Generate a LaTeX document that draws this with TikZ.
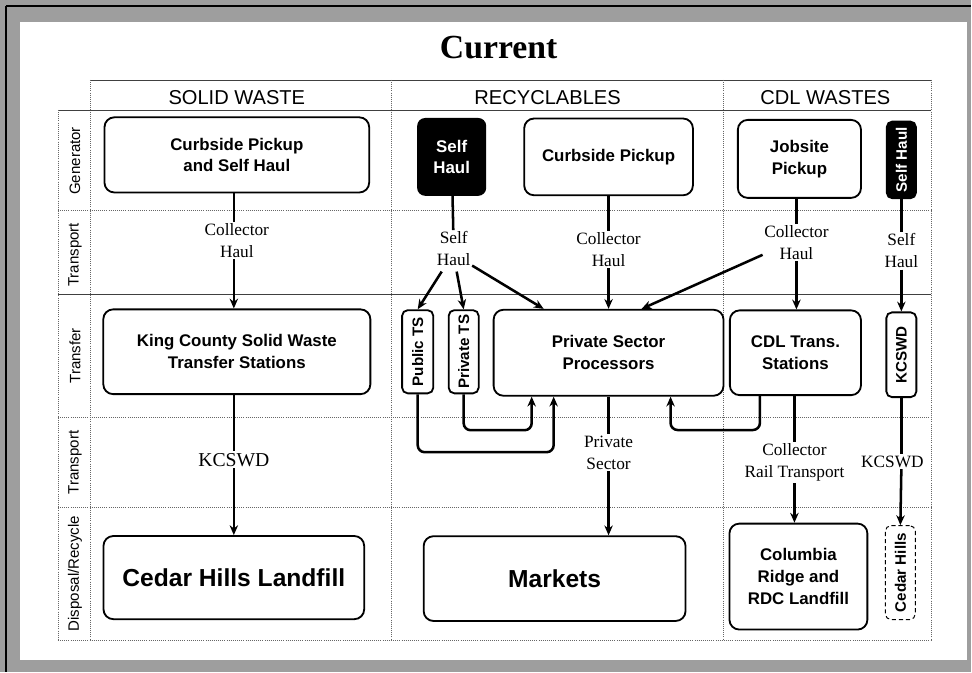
\documentclass[tikz,border=0pt]{standalone}
\usepackage{fontspec}
\setmainfont{Liberation Serif}
\setsansfont{Liberation Sans}
\usepackage{graphicx}
\usetikzlibrary{arrows.meta,calc}
\definecolor{framegray}{gray}{0.62}

\tikzset{
  box/.style={draw, line width=1.3pt, rounded corners=7pt, align=center, inner sep=0pt, fill=white,
    font=\sffamily\bfseries\fontsize{12}{15.5}\selectfont},
  blackbox/.style={box, fill=black, text=white},
  bigbox/.style={box, font=\sffamily\bfseries\fontsize{17.5}{20}\selectfont},
  slimbox/.style={box, rounded corners=4pt, font=\sffamily\bfseries\fontsize{10.8}{12}\selectfont},
  lbl/.style={align=center, inner sep=1pt, font=\fontsize{12.3}{15.5}\selectfont},
  conn/.style={line width=1.8pt},
  arr/.style={conn, -{Stealth[length=7pt,width=6pt]}},
  rule/.style={black!75, line width=0.6pt},
  grid/.style={densely dotted, black!60, line width=0.5pt},
  rowname/.style={rotate=90, font=\sffamily\fontsize{10.7}{12}\selectfont},
  colname/.style={font=\sffamily\fontsize{14.3}{16}\selectfont}
}

\begin{document}
\begin{tikzpicture}[x=0.025cm, y=-0.025cm]
% Draw the frame
\fill[framegray] (0,0) rectangle (972,672);
\fill[white] (20,22) rectangle (968,660);
\draw[line width=1pt] (6,6) -- (972,6);
\draw[line width=1pt] (6,6) -- (6,672);

% Draw the title
\node[font=\bfseries\fontsize{24}{28}\selectfont] (title) at (499,48) {Current};

% Draw the table lines
\draw[rule] (90,80) -- (932,80);
\draw[rule] (58,110) -- (932,110);
\draw[grid] (58,210) -- (932,210);
\draw[rule] (58,295) -- (932,295);
\draw[grid] (58,418) -- (932,418);
\draw[grid] (58,508) -- (932,508);
\draw[grid] (58,641) -- (932,641);
\foreach \x in {90,392,724,932} \draw[grid] (\x,80) -- (\x,641);
\draw[grid] (58,110) -- (58,641);

% Column and row names
\node[colname] (sw) at (237,98) {SOLID WASTE};
\node[colname] (rc) at (548,98) {RECYCLABLES};
\node[colname] (cdl) at (826,98) {CDL WASTES};
\node[rowname] (gen) at (75,161) {Generator};
\node[rowname] (tr1) at (75,255) {Transport};
\node[rowname] (tf) at (75,356) {Transfer};
\node[rowname] (tr2) at (75,463) {Transport};
\node[rowname] (dr) at (75,574) {Disposal/Recycle};

% Generator row
\node[box, minimum width=6.62cm, minimum height=1.88cm] (cps) at (237,155) {Curbside Pickup\\and Self Haul};
\node[blackbox, rounded corners=5pt, minimum width=1.68cm, minimum height=1.9cm] (shr) at (452,157) {Self\\Haul};
\node[box, minimum width=4.22cm, minimum height=1.92cm] (cpr) at (609,157) {Curbside Pickup};
\node[box, minimum width=3.08cm, minimum height=1.95cm] (job) at (800,159) {Jobsite\\Pickup};
\node[slimbox, fill=black, text=white, minimum width=0.73cm, minimum height=1.92cm] (shc) at (902,160) {\rotatebox{90}{Self Haul}};

% Transport labels
\node[lbl] (chs) at (237,241) {Collector\\Haul};
\node[lbl] (shl) at (454,249) {Self\\Haul};
\node[lbl] (chr) at (609,250) {Collector\\Haul};
\node[lbl] (chc) at (797,243) {Collector\\Haul};
\node[lbl] (shlc) at (902,251) {Self\\Haul};

% Transfer row
\node[box, minimum width=6.68cm, minimum height=2.12cm] (kcts) at (237,352) {King County Solid Waste\\Transfer Stations};
\node[slimbox, minimum width=0.78cm, minimum height=2.08cm] (pub) at (418,352) {\rotatebox{90}{Public TS}};
\node[slimbox, minimum width=0.75cm, minimum height=2.08cm] (pri) at (464,352) {\rotatebox{90}{Private TS}};
\node[box, minimum width=5.75cm, minimum height=2.15cm] (psp) at (609,353) {Private Sector\\Processors};
\node[box, minimum width=3.28cm, minimum height=2.12cm] (cdlts) at (796,353) {CDL Trans.\\Stations};
\node[slimbox, minimum width=0.75cm, minimum height=2.12cm] (kcb) at (902,355) {\rotatebox{90}{KCSWD}};

% Transport labels
\node[lbl, font=\fontsize{14}{16}\selectfont] (kcl) at (234,460) {KCSWD};
\node[lbl] (psl) at (609,453) {Private\\Sector};
\node[lbl] (crt) at (795,463) {Collector\\Rail Transport};
\node[lbl] (kcl2) at (893,462) {KCSWD};

% Disposal/Recycle row
\node[bigbox, minimum width=6.52cm, minimum height=2.08cm] (chl) at (234,578) {Cedar Hills Landfill};
\node[bigbox, minimum width=6.55cm, minimum height=2.12cm] (mkt) at (555,579) {Markets};
\node[box, minimum width=3.45cm, minimum height=2.65cm] (crl) at (799,577) {Columbia\\Ridge and\\RDC Landfill};
\node[slimbox, densely dashed, line width=0.7pt, minimum width=0.75cm, minimum height=2.35cm] (chv) at (901,573) {\rotatebox{90}{Cedar Hills}};

% Connectors
\draw[conn] (cps.south -| kcl) -- (kcl |- chs.north);
\draw[arr] (kcl |- chs.south) -- (kcl |- kcts.north);
\draw[conn] (kcts.south -| kcl) -- (kcl.north);
\draw[arr] (kcl.south) -- (kcl |- chl.north);

\draw[conn] (shr) -- (shl);
\draw[arr] ($(shl.south)+(-12,4)$) -- (pub.north);
\draw[arr] ($(shl.south)+(3,4)$) -- (pri.north);
\draw[arr] ($(shl.south east)+(0,-2)$) -- ($(psp.north west)+(51,0)$);

\draw[conn] (cpr) -- (chr);
\draw[arr] (chr) -- (psp.north);
\draw[conn] (psp) -- (psl);
\draw[arr] (psl) -- (psl |- mkt.north);

\draw[conn] (job.south -| chc) -- (chc);
\draw[arr] (chc) -- (chc |- cdlts.north);
\draw[arr] ($(chc.west)+(0,12)$) -- ($(psp.north west)+(149,0)$);
\draw[conn] (cdlts.south -| crt) -- (crt);
\draw[arr] (crt) -- (crt |- crl.north);

\draw[conn] (shc) -- (shlc);
\draw[arr] (shlc) -- (shlc |- kcb.north);
\draw[conn] (kcb) -- (kcb |- kcl2.north);
\draw[arr] (kcb |- kcl2.south) -- (chv.north);

% Loops back to the processors
\draw[arr, rounded corners=5pt] (pub.south) -- ++(0,58) -| ($(psp.south west)+(61,0)$);
\draw[arr, rounded corners=5pt] (pri.south) -- ++(0,36) -| ($(psp.south west)+(39,0)$);
\draw[arr, rounded corners=5pt] ($(cdlts.south west)+(31,0)$) -- ++(0,34) -| ($(psp.south west)+(178,0)$);
\end{tikzpicture}
\end{document}
